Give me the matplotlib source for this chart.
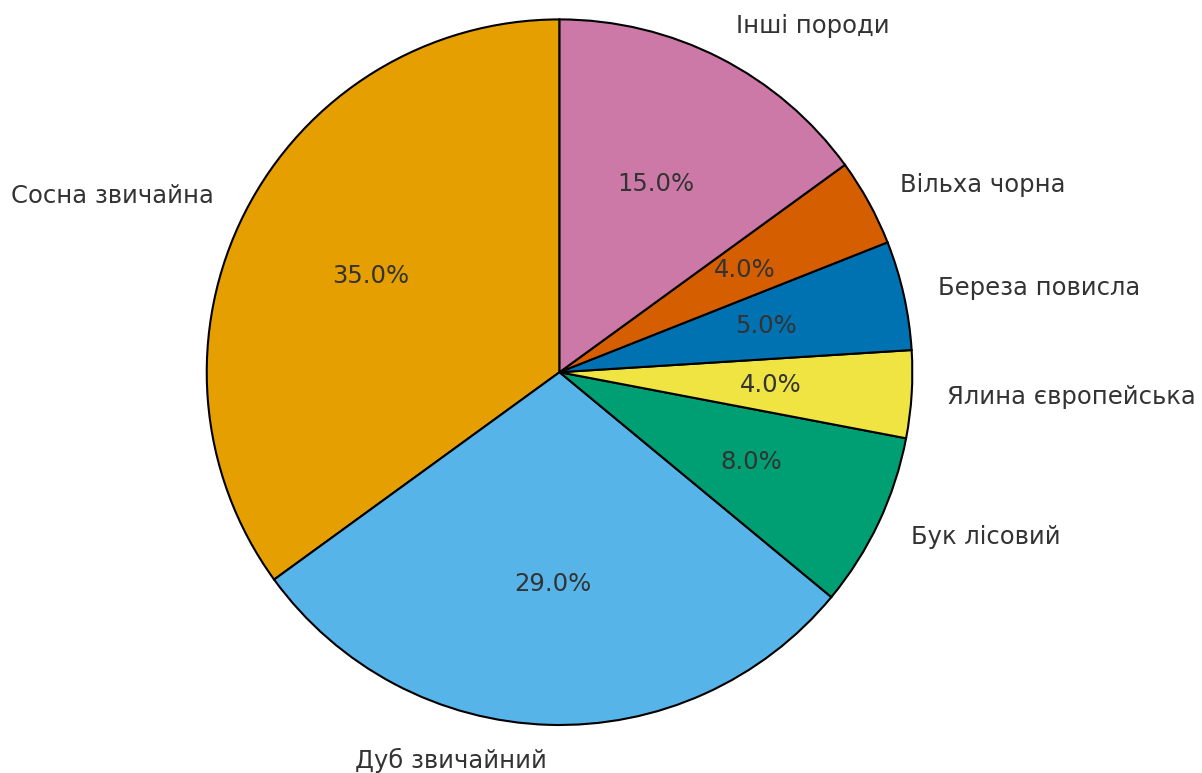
import matplotlib
matplotlib.use("Agg")
import matplotlib.pyplot as plt

species = ["Сосна звичайна", "Дуб звичайний", "Бук лісовий", "Ялина європейська",
           "Береза повисла", "Вільха чорна", "Інші породи"]
shares = [35.0, 29.0, 8.0, 4.0, 5.0, 4.0, 15.0]
colors = ["#E69F00", "#56B4E9", "#009E73", "#F0E442", "#0072B2", "#D55E00", "#CC79A7"]

fig = plt.figure(figsize=(12.02, 7.73), dpi=100)
ax = fig.add_axes([0.172, 0.062, 0.587, 0.913])
wedges, texts, autotexts = ax.pie(
    shares, labels=species, colors=colors, autopct="%1.1f%%", startangle=90,
    wedgeprops=dict(edgecolor="black", linewidth=1.5),
    textprops=dict(fontsize=17.5, color="#333333", family="DejaVu Sans"),
)
ax.set_xlim(-1, 1)
ax.set_ylim(-1, 1)
ax.set_aspect("equal")
fig.savefig("out.png", dpi=100)
